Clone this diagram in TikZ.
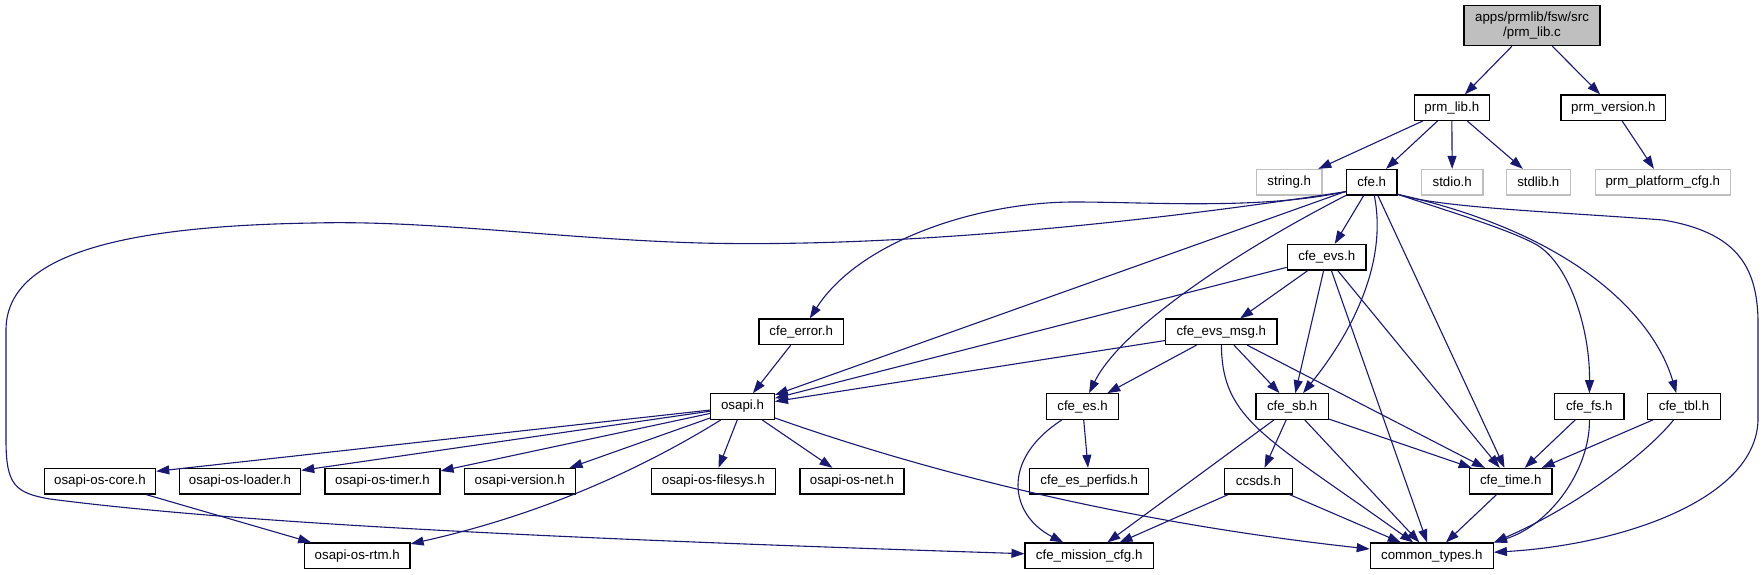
\documentclass[tikz,border=0pt]{standalone}
\usepackage{fontspec}
\setmainfont{Liberation Sans}
\usetikzlibrary{arrows.meta}
\definecolor{edgeblue}{HTML}{191970}
\definecolor{greyseventyfive}{HTML}{BFBFBF}
\begin{document}
\begin{tikzpicture}[x=1pt,y=-1pt,
  nd/.style={draw=black, line width=1.2pt, fill=white, rectangle, minimum height=25.5pt,
    inner sep=0pt, font=\fontsize{13.3}{15}\selectfont, text=black},
  sysnd/.style={nd, draw=greyseventyfive},
  rootnd/.style={nd, fill=greyseventyfive, minimum height=40pt, align=center},
  edge/.style={draw=edgeblue, line width=1.1pt, -{Triangle[length=13pt,width=9pt]}},
]
\useasboundingbox (0,0) rectangle (1763,575);

% row 0
\node[rootnd, minimum width=136pt] (root) at (1532,25.7) {apps/prmlib/fsw/src\\/prm\_lib.c};
% row 1
\node[nd, minimum width=75pt] (prmlib) at (1451.8,107.7) {prm\_lib.h};
\node[nd, minimum width=104.7pt] (prmver) at (1613.3,107.7) {prm\_version.h};
% row 2
\node[sysnd, minimum width=65.7pt] (string) at (1289.2,182.2) {string.h};
\node[nd, minimum width=50.7pt] (cfe) at (1371.7,182.2) {cfe.h};
\node[sysnd, minimum width=61.7pt] (stdio) at (1452.2,182.2) {stdio.h};
\node[sysnd, minimum width=64pt] (stdlib) at (1538.3,182.2) {stdlib.h};
\node[sysnd, minimum width=135pt] (platcfg) at (1662.8,182.2) {prm\_platform\_cfg.h};
% row 3
\node[nd, minimum width=78.7pt] (evs) at (1326.7,257.2) {cfe\_evs.h};
% row 4
\node[nd, minimum width=84.3pt] (error) at (801.2,331.8) {cfe\_error.h};
\node[nd, minimum width=111.3pt] (evsmsg) at (1221.3,331.8) {cfe\_evs\_msg.h};
% row 5
\node[nd, minimum width=63.7pt] (osapi) at (742.5,406.5) {osapi.h};
\node[nd, minimum width=72pt] (es) at (1082.5,406.5) {cfe\_es.h};
\node[nd, minimum width=72.3pt] (sb) at (1292.2,406.5) {cfe\_sb.h};
\node[nd, minimum width=69.3pt] (fs) at (1589.3,406.5) {cfe\_fs.h};
\node[nd, minimum width=72.3pt] (tbl) at (1684,406.5) {cfe\_tbl.h};
% row 6
\node[nd, minimum width=111.3pt] (core) at (100,481.2) {osapi-os-core.h};
\node[nd, minimum width=121.3pt] (loader) at (240,481.2) {osapi-os-loader.h};
\node[nd, minimum width=115pt] (timer) at (382.5,481.2) {osapi-os-timer.h};
\node[nd, minimum width=111pt] (version) at (519.7,481.2) {osapi-version.h};
\node[nd, minimum width=124pt] (filesys) at (713.3,481.2) {osapi-os-filesys.h};
\node[nd, minimum width=104pt] (net) at (852,481.2) {osapi-os-net.h};
\node[nd, minimum width=119pt] (perfids) at (1089.2,481.2) {cfe\_es\_perfids.h};
\node[nd, minimum width=68.5pt] (ccsds) at (1258.5,481.2) {ccsds.h};
\node[nd, minimum width=82.7pt] (time) at (1510.7,481.2) {cfe\_time.h};
% row 7
\node[nd, minimum width=105.7pt] (rtm) at (357.2,555.8) {osapi-os-rtm.h};
\node[nd, minimum width=128.3pt] (mission) at (1089.2,555.8) {cfe\_mission\_cfg.h};
\node[nd, minimum width=123pt] (types) at (1431.8,555.8) {common\_types.h};

% edges from prm_lib.c
\draw[edge] (root) -- (prmlib);
\draw[edge] (root) -- (prmver);
% prm_lib.h
\draw[edge] (prmlib) -- (string);
\draw[edge] (prmlib) -- (cfe);
\draw[edge] (prmlib) -- (stdio);
\draw[edge] (prmlib) -- (stdlib);
% prm_version.h
\draw[edge] (prmver) -- (platcfg);
% cfe.h
\draw[edge] (cfe.200) .. controls (1150,222) and (900,248) .. (700,243)
  .. controls (560,239) and (430,220) .. (314,223)
  .. controls (120,226) and (6,255) .. (6,330) -- (6,440)
  .. controls (6,485) and (15,493) .. (50,499)
  .. controls (250,525) and (600,540) .. (mission);
\draw[edge] (cfe.200) .. controls (1260,210) and (1150,202) .. (1074,202)
  .. controls (980,202) and (860,240) .. (error);
\draw[edge] (cfe) -- (osapi);
\draw[edge] (cfe) .. controls (1230,255) and (1120,330) .. (es);
\draw[edge] (cfe) -- (evs);
\draw[edge] (cfe) .. controls (1388,265) and (1350,335) .. (sb);
\draw[edge] (cfe) -- (time);
\draw[edge] (cfe.335) .. controls (1460,215) and (1510,230) .. (1537,245)
  .. controls (1570,265) and (1590,330) .. (fs);
\draw[edge] (cfe.335) .. controls (1580,235) and (1655,320) .. (tbl.120);
\draw[edge] (cfe.335) .. controls (1440,208) and (1560,212) .. (1663,220)
  .. controls (1735,232) and (1757,265) .. (1758,320) -- (1758,420)
  .. controls (1756,500) and (1620,545) .. (types);
% cfe_evs.h
\draw[edge] (evs) -- (osapi);
\draw[edge] (evs) -- (evsmsg);
\draw[edge] (evs) -- (sb);
\draw[edge] (evs) -- (types);
\draw[edge] (evs) -- (time);
% cfe_evs_msg.h
\draw[edge] (evsmsg) -- (osapi);
\draw[edge] (evsmsg) -- (es);
\draw[edge] (evsmsg) -- (sb);
\draw[edge] (evsmsg) .. controls (1222,420) and (1266,437) .. (types);
\draw[edge] (evsmsg) -- (time);
% cfe_error.h
\draw[edge] (error) -- (osapi);
% osapi.h
\draw[edge] (osapi) -- (core.10);
\draw[edge] (osapi) -- (loader.10);
\draw[edge] (osapi) -- (timer.10);
\draw[edge] (osapi) -- (version.15);
\draw[edge] (osapi) .. controls (640,470) and (540,515) .. (rtm);
\draw[edge] (osapi) -- (filesys);
\draw[edge] (osapi) -- (net);
\draw[edge] (osapi) .. controls (950,480) and (1150,525) .. (types);
\draw[edge] (core) -- (rtm);
% cfe_es.h
\draw[edge] (es) -- (perfids);
\draw[edge] (es) .. controls (1000,460) and (1010,515) .. (mission);
% cfe_sb.h
\draw[edge] (sb) -- (ccsds);
\draw[edge] (sb) -- (mission);
\draw[edge] (sb) -- (types);
\draw[edge] (sb) -- (time);
% ccsds.h
\draw[edge] (ccsds) -- (mission);
\draw[edge] (ccsds) -- (types);
% cfe_time.h
\draw[edge] (time) -- (types);
% cfe_fs.h
\draw[edge] (fs) -- (time);
\draw[edge] (fs) .. controls (1590,470) and (1550,525) .. (types.north east);
% cfe_tbl.h
\draw[edge] (tbl) -- (time);
\draw[edge] (tbl) .. controls (1650,450) and (1580,505) .. (types.north east);
\end{tikzpicture}
\end{document}
